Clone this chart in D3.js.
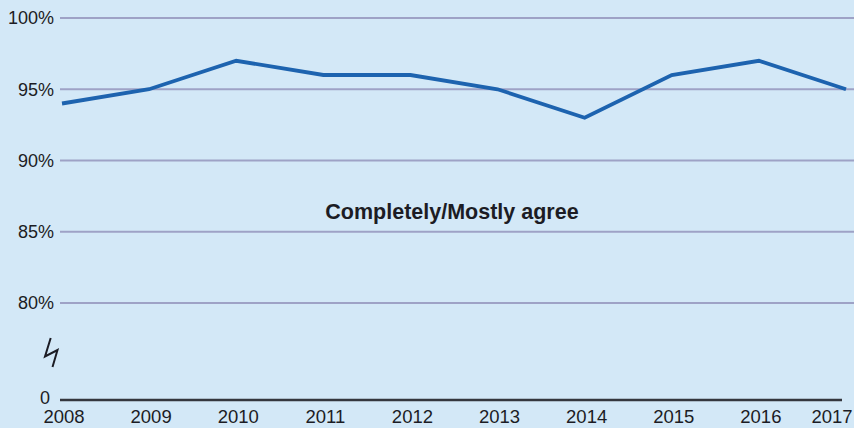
<!DOCTYPE html>
<html>
<head>
<meta charset="utf-8">
<script src="https://cdn.jsdelivr.net/npm/d3@7"></script>
<style>
  html, body { margin: 0; padding: 0; background: #d3e8f7; }
  svg { display: block; }
  text { font-family: "Liberation Sans", Arial, sans-serif; fill: #1c1c24; }
</style>
</head>
<body>
<svg id="chart" width="854" height="428"></svg>
<script>
// Share of respondents who completely/mostly agree, by year
const years = ["2008","2009","2010","2011","2012","2013","2014","2015","2016","2017"];
const agree = [94, 95, 97, 96, 96, 95, 93, 96, 97, 95];
const gridTicks = [80, 85, 90, 95, 100];
const seriesLabel = "Completely/Mostly agree";

const W = 854, H = 428;
const svg = d3.select("#chart");

svg.append("rect").attr("width", W).attr("height", H).attr("fill", "#d3e8f7");

const x = d3.scalePoint().domain(years).range([62, 846]);
// Upper (broken) axis segment: 80%–100%
const y = d3.scaleLinear().domain([80, 100]).range([303, 18]);
const baseY = 400;

// Horizontal gridlines
svg.append("g").selectAll("line").data(gridTicks).join("line")
  .attr("x1", 60).attr("x2", W)
  .attr("y1", d => y(d)).attr("y2", d => y(d))
  .attr("stroke", "#9ea2c6").attr("stroke-width", 2);

// Y tick labels
svg.append("g").selectAll("text").data(gridTicks).join("text")
  .attr("x", 54).attr("y", d => y(d))
  .attr("dy", "0.35em")
  .attr("text-anchor", "end")
  .attr("font-size", 18)
  .text(d => d + "%");

// Zero baseline
svg.append("line")
  .attr("x1", 60).attr("x2", 842)
  .attr("y1", baseY).attr("y2", baseY)
  .attr("stroke", "#34363e").attr("stroke-width", 2.5);

svg.append("text")
  .attr("x", 50).attr("y", baseY + 4)
  .attr("text-anchor", "end")
  .attr("font-size", 18)
  .text("0");

// Axis break mark
svg.append("path")
  .attr("d", "M50.7,338 L45,356.5 L57.5,350 L52.5,367")
  .attr("fill", "none")
  .attr("stroke", "#1c1c24")
  .attr("stroke-width", 2)
  .attr("stroke-linejoin", "miter");

// X labels (last one pulled in so it stays inside the frame)
svg.append("g").selectAll("text").data(years).join("text")
  .attr("x", d => Math.min(x(d) + 2, 832)).attr("y", 423)
  .attr("text-anchor", "middle")
  .attr("font-size", 18.5)
  .text(d => d);

// Series line
const line = d3.line()
  .x((d, i) => x(years[i]))
  .y(d => y(d));

svg.append("path")
  .datum(agree)
  .attr("d", line)
  .attr("fill", "none")
  .attr("stroke", "#1d63af")
  .attr("stroke-width", 3.8)
  .attr("stroke-linejoin", "miter");

// Series label
svg.append("text")
  .attr("x", 452).attr("y", 219)
  .attr("text-anchor", "middle")
  .attr("font-size", 21.5)
  .attr("font-weight", "bold")
  .text(seriesLabel);
</script>
</body>
</html>
